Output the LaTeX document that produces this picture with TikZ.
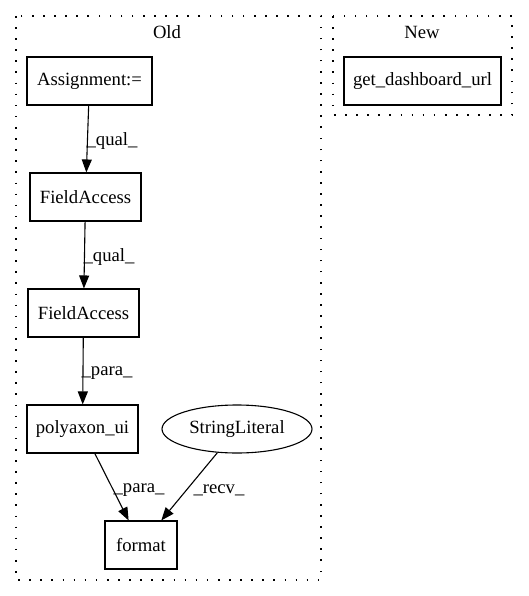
\documentclass[tikz,border=0pt]{standalone}
\usepackage{fontspec}
\setmainfont{Liberation Serif}
\usetikzlibrary{arrows.meta,shapes.geometric}
\tikzset{
  gbox/.style={draw, line width=1.1pt, rectangle, minimum height=48pt, inner sep=0pt, font=\fontsize{18.67}{20}\selectfont},
  gell/.style={draw, line width=1.1pt, ellipse, minimum height=48pt, minimum width=150pt, inner sep=0pt, font=\fontsize{18.67}{20}\selectfont},
  cluster/.style={draw, line width=1.3pt, dash pattern=on 1.6pt off 9.5pt},
  ctitle/.style={font=\fontsize{18.67}{20}\selectfont},
  gedge/.style={draw, line width=1.1pt, -{Triangle[length=13pt,width=10pt]}},
  elabel/.style={font=\fontsize{18.67}{20}\selectfont, inner sep=0pt}
}
\begin{document}
\begin{tikzpicture}[x=1pt,y=-1pt]
\useasboundingbox (0,0) rectangle (528,596);
\draw[cluster] (16,16) rectangle (321,580);
\draw[cluster] (333,16) rectangle (512,115);
\node[ctitle] (told) at (167,32) {Old};
\node[ctitle] (tnew) at (422,32) {New};

\node[gbox, minimum width=125pt] (asg) at (89.5,81) {Assignment:=};
\node[gbox, minimum width=157pt] (gdu) at (422.5,81) {get\_dashboard\_url};
\node[gbox, minimum width=111pt] (fa1) at (85.5,197) {FieldAccess};
\node[gbox, minimum width=111pt] (fa2) at (83.5,313) {FieldAccess};
\node[gbox, minimum width=111pt] (pui) at (82.5,429) {polyaxon\_ui};
\node[gell] (sl) at (237,429) {StringLiteral};
\node[gbox, minimum width=72pt] (fmt) at (141,545) {format};

\draw[gedge] (asg) -- (fa1);
\draw[gedge] (fa1) -- (fa2);
\draw[gedge] (fa2) -- (pui);
\draw[gedge] (pui) -- (fmt);
\draw[gedge] (sl) -- (fmt);

\node[elabel] (l1) at (112,141) {\_qual\_};
\node[elabel] (l2) at (109,257) {\_qual\_};
\node[elabel] (l3) at (107,373) {\_para\_};
\node[elabel] (l4) at (139,490) {\_para\_};
\node[elabel] (l5) at (219,490) {\_recv\_};
\end{tikzpicture}
\end{document}
